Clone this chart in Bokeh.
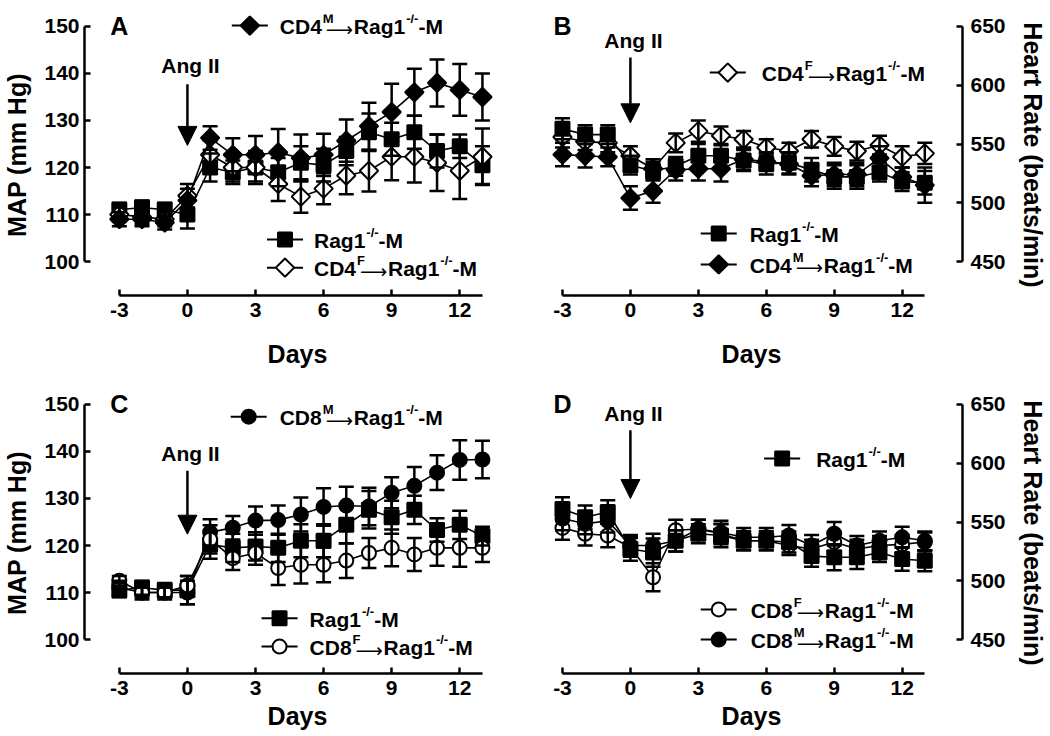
import math
from bokeh.plotting import figure
from bokeh.layouts import column, row
from bokeh.models import Range1d, FixedTicker, Whisker, TeeHead, Arrow, NormalHead, ColumnDataSource
from bokeh.core.properties import value
from bokeh.embed import file_html
from bokeh.resources import INLINE

# ---------------- data ----------------
DAYS = list(range(-3, 14))
X_TICKS = [-3, 0, 3, 6, 9, 12]
MAP_TICKS = [100, 110, 120, 130, 140, 150]
HR_TICKS = [450, 500, 550, 600, 650]

# Panel A : MAP, CD4 transfer
A_rag = [111, 111.5, 111, 110, 120, 119, 120, 119, 121, 120.5, 123.5, 127.5, 126, 127.5, 123.5, 124.5, 120.5]
A_rag_err = [1.5, 1.5, 1.5, 3, 3, 2.5, 3, 3, 3.5, 3.5, 3, 4, 3.5, 3.5, 3.5, 2.5, 4]
A_m = [109, 109, 108.3, 113, 126.3, 122.7, 122.7, 123.2, 122, 122.7, 125.7, 128.8, 131.8, 136, 138, 136.5, 135]
A_m_err = [1.5, 1.5, 1.5, 2.5, 2.5, 3.5, 4, 5, 5, 4.5, 4.5, 5, 6, 5, 5, 5.5, 5]
A_f = [110, 109.5, 109, 114, 122.7, 120, 120, 116.5, 113.8, 115.5, 118.3, 119.3, 122.3, 122.3, 121, 119.3, 122.3]
A_f_err = [1.5, 1.5, 1.5, 2.5, 3, 3, 3.5, 3.6, 3.4, 3.3, 4, 4.4, 5, 5.5, 6, 6, 6]

# Panel B : heart rate, CD4 transfer
B_rag = [563, 558, 558, 532, 527, 531, 540, 540, 536, 533, 534, 528, 522, 522, 526, 518, 517]
B_rag_err = [9, 8, 8, 8, 8, 8, 10, 10, 9, 9, 9, 10, 10, 10, 8, 8, 10]
B_m = [541, 540, 539, 504, 510, 528, 529, 529, 537, 535, 533, 523, 524, 524, 538, 522, 515]
B_m_err = [10, 10, 8, 10, 10, 9, 10, 11, 9, 8, 9, 9, 10, 10, 10, 8, 15]
B_f = [556, 552, 551, 540, 529, 551, 561, 557, 554, 547, 544, 554, 548, 544, 549, 539, 542]
B_f_err = [9, 7, 8, 8, 8, 8, 9, 8, 7, 7, 7, 7, 8, 8, 8, 9, 9]

# Panel C : MAP, CD8 transfer
C_rag = [110.5, 111, 110.5, 110.5, 120.2, 119.5, 119.8, 119.5, 121, 121, 124.4, 127.6, 126, 127.6, 123.3, 124.4, 122]
C_rag_err = [1.5, 1.5, 1.5, 3, 3, 3, 3, 3, 3.5, 3.5, 4, 4, 3.5, 3, 2.5, 3, 2]
C_m = [111, 110, 110, 110, 122.8, 123.8, 125.3, 125.4, 126.6, 128.2, 128.5, 128.3, 131.2, 132.7, 135.5, 138.2, 138.3]
C_m_err = [1.5, 1.5, 1.5, 2.5, 2.8, 2.5, 3, 3.1, 3.6, 4, 4, 4, 3.3, 4, 3.7, 4.2, 4]
C_f = [112.5, 110, 110, 111.5, 121.3, 117.3, 118.4, 115.2, 115.9, 115.9, 116.8, 118.4, 119.5, 118.1, 119.5, 119.5, 119.5]
C_f_err = [1, 1, 1, 2, 3, 2.5, 2.5, 3.6, 4, 3.7, 3.7, 3.2, 3.9, 3.5, 3.8, 4, 3]

# Panel D : heart rate, CD8 transfer
D_rag = [561, 554, 558.5, 527, 524, 534, 540, 538.5, 534, 534, 533, 521, 520, 520, 524, 518.5, 517]
D_rag_err = [10, 10, 10, 10, 12, 9, 8, 10, 8, 8, 9, 9, 11, 10, 8, 10, 9]
D_f = [545, 540, 538.5, 528.5, 503, 543, 544, 540, 534, 534, 530, 527, 533, 527, 530, 531, 533]
D_f_err = [10, 10, 10, 8, 12, 9, 8, 8, 8, 8, 8, 8, 8, 8, 8, 8, 8]
D_m = [553, 548.5, 551, 530, 530, 534, 544, 541, 537, 537, 538.5, 530, 540, 530, 534, 537, 534]
D_m_err = [10, 9, 10, 9, 10, 9, 8, 10, 8, 8, 9, 9, 10, 8, 8, 9, 8]

# legend labels as pieces: (text, kind)  kind: 0 normal, 1 superscript, 2 arrow
LBL_RAG = [("Rag1", 0), ("-/-", 1), ("-M", 0)]
LBL_CD4M = [("CD4", 0), ("M", 1), ("\u27f6", 2), ("Rag1", 0), ("-/-", 1), ("-M", 0)]
LBL_CD4F = [("CD4", 0), ("F", 1), ("\u27f6", 2), ("Rag1", 0), ("-/-", 1), ("-M", 0)]
LBL_CD8M = [("CD8", 0), ("M", 1), ("\u27f6", 2), ("Rag1", 0), ("-/-", 1), ("-M", 0)]
LBL_CD8F = [("CD8", 0), ("F", 1), ("\u27f6", 2), ("Rag1", 0), ("-/-", 1), ("-M", 0)]

# ---------------- style ----------------
FONT = "Liberation Sans"
MAIN_FS = 21
SUP_FS = 13
ARROW_FS = 19
ARROW_W = 27
WIDTHS = {'C': 722, 'D': 722, '4': 556, '8': 556, 'M': 833, 'F': 611, 'R': 722, 'a': 556,
          'g': 611, '1': 556, '-': 333, '/': 278}

STYLE = {
    "rag": dict(marker="square", size=14, fill_color="black", angle=0.0),
    "m4": dict(marker="square", size=13, fill_color="black", angle=math.pi / 4),
    "f4": dict(marker="square", size=13, fill_color="white", angle=math.pi / 4),
    "m8": dict(marker="circle", size=14, fill_color="black", angle=0.0),
    "f8": dict(marker="circle", size=14, fill_color="white", angle=0.0),
}

MAP_YR = (92.77, 152.55)
HR_YR = (421.1, 660.2)
LEFT_XR = (-4.535, 14.237)
RIGHT_XR = (-3.97, 14.665)


def text_width(s, fs):
    return sum(WIDTHS.get(ch, 556) for ch in s) * fs / 1000.0


def make_fig(width, height, xr, yr, ylabel, side, bl, br, bt, bb, xstand, xlab_standoff, yticks, ybounds):
    p = figure(width=width, height=height, x_range=Range1d(*xr), y_range=Range1d(*yr),
               output_backend="svg", toolbar_location=None, y_axis_location=side,
               min_border_left=bl, min_border_right=br, min_border_top=bt, min_border_bottom=bb)
    p.outline_line_color = None
    p.grid.visible = False
    p.background_fill_color = "white"
    p.border_fill_color = "white"
    for ax in (p.xaxis[0], p.yaxis[0]):
        ax.axis_line_width = 2.5
        ax.major_tick_line_width = 2.5
        ax.major_tick_in = 6
        ax.major_tick_out = 0
        ax.minor_tick_line_color = None
        ax.major_label_text_font = FONT
        ax.major_label_text_font_style = "bold"
        ax.major_label_text_font_size = "21px"
        ax.major_label_text_color = "black"
        ax.axis_label_text_font = FONT
        ax.axis_label_text_font_style = "bold"
        ax.axis_label_text_font_size = "25px"
        ax.axis_label_text_color = "black"
        ax.axis_line_color = "black"
        ax.major_tick_line_color = "black"
    xa = p.xaxis[0]
    xa.ticker = FixedTicker(ticks=X_TICKS)
    xa.major_label_overrides = {-3: "-3"}
    xa.bounds = (-3, 13)
    xa.axis_label = "Days"
    xa.major_label_standoff = xstand
    xa.axis_label_standoff = xlab_standoff
    ya = p.yaxis[0]
    ya.ticker = FixedTicker(ticks=yticks)
    ya.bounds = ybounds
    ya.axis_label = ylabel
    ya.major_label_standoff = 5 if side == "left" else 8
    ya.axis_label_standoff = 10
    return p


def add_series(p, y, err, key):
    st = STYLE[key]
    src = ColumnDataSource(dict(x=DAYS, y=y,
                                upper=[a + b for a, b in zip(y, err)],
                                lower=[a - b for a, b in zip(y, err)]))
    p.line("x", "y", source=src, line_color="black", line_width=1.6)
    w = Whisker(source=src, base="x", upper="upper", lower="lower", line_width=2.5,
                line_color="black", level="glyph",
                upper_head=TeeHead(size=15, line_width=2.5, line_color="black"),
                lower_head=TeeHead(size=15, line_width=2.5, line_color="black"))
    p.add_layout(w)
    p.scatter("x", "y", source=src, marker=st["marker"], size=st["size"], angle=st["angle"],
              fill_color=st["fill_color"], line_color="black", line_width=2)


def add_legend(p, x, y, key, parts, text_gap):
    st = STYLE[key]
    p.scatter([x], [y], marker="dash", size=36, line_color="black", line_width=2)
    p.scatter([x], [y], marker=st["marker"], size=st["size"], angle=st["angle"],
              fill_color=st["fill_color"], line_color="black", line_width=2)
    off = text_gap
    sup_start = off
    for s, kind in parts:
        if kind == 2:
            start = sup_start + 3
            p.text(x=[x], y=[y], text=[s], x_offset=start, y_offset=3,
                   text_font=value("DejaVu Sans"), text_font_size=f"{ARROW_FS}px",
                   text_align="left", text_baseline="middle", text_color="black")
            off = start + ARROW_W + 1
            continue
        fs = SUP_FS if kind == 1 else MAIN_FS
        if kind == 1:
            sup_start = off + 1
            off += 1
        p.text(x=[x], y=[y], text=[s], x_offset=off, y_offset=(-7 if kind == 1 else 1),
               text_font=value(FONT), text_font_style="bold", text_font_size=f"{fs}px",
               text_align="left", text_baseline="middle", text_color="black")
        off += text_width(s, fs)


def add_marks(p, letter, ly, ang_text_y, arrow_top, arrow_bottom):
    p.text(x=[-3], y=[ly], text=[letter], text_font=value(FONT), text_font_style="bold",
           text_font_size="25px", text_align="center", text_baseline="middle", text_color="black")
    p.text(x=[0], y=[ang_text_y], text=["Ang II"], x_offset=3, text_font=value(FONT),
           text_font_style="bold", text_font_size="21px", text_align="center",
           text_baseline="middle", text_color="black")
    p.add_layout(Arrow(end=NormalHead(size=19, fill_color="black", line_color="black"),
                       x_start=0, y_start=arrow_top, x_end=0, y_end=arrow_bottom,
                       line_width=2.5, line_color="black"))


# Panel A
pA = make_fig(530, 374, LEFT_XR, MAP_YR, "MAP (mm Hg)", "left", 82, 20, 14, 79, 7, 20, MAP_TICKS, (100, 150))
add_series(pA, A_rag, A_rag_err, "rag")
add_series(pA, A_f, A_f_err, "f4")
add_series(pA, A_m, A_m_err, "m4")
add_marks(pA, "A", 150.2, 141.7, 137.7, 124.7)
add_legend(pA, 2.75, 150.2, "m4", LBL_CD4M, 30)
add_legend(pA, 4.3, 104.7, "rag", LBL_RAG, 29)
add_legend(pA, 4.3, 98.7, "f4", LBL_CD4F, 29)

# Panel B
pB = make_fig(519, 374, RIGHT_XR, HR_YR, "Heart Rate (beats/min)", "right", 10, 86, 14, 79, 7, 20, HR_TICKS, (450, 650))
add_series(pB, B_f, B_f_err, "f4")
add_series(pB, B_m, B_m_err, "m4")
add_series(pB, B_rag, B_rag_err, "rag")
add_marks(pB, "B", 650, 638, 623.6, 568)
add_legend(pB, 4.3, 610.8, "f4", LBL_CD4F, 34)
add_legend(pB, 3.9, 473.8, "rag", LBL_RAG, 31)
add_legend(pB, 3.9, 447.5, "m4", LBL_CD4M, 31)

# Panel C
pC = make_fig(530, 361, LEFT_XR, MAP_YR, "MAP (mm Hg)", "left", 82, 20, 18, 62, 7, 4, MAP_TICKS, (100, 150))
add_series(pC, C_rag, C_rag_err, "rag")
add_series(pC, C_m, C_m_err, "m8")
add_series(pC, C_f, C_f_err, "f8")
add_marks(pC, "C", 150, 139.5, 135.9, 122.4)
add_legend(pC, 2.7, 147.4, "m8", LBL_CD8M, 31)
add_legend(pC, 4.06, 104.5, "rag", LBL_RAG, 30)
add_legend(pC, 4.06, 98.5, "f8", LBL_CD8F, 30)

# Panel D
pD = make_fig(519, 361, RIGHT_XR, HR_YR, "Heart Rate (beats/min)", "right", 10, 86, 18, 62, 7, 4, HR_TICKS, (450, 650))
add_series(pD, D_f, D_f_err, "f8")
add_series(pD, D_m, D_m_err, "m8")
add_series(pD, D_rag, D_rag_err, "rag")
add_marks(pD, "D", 650, 642, 628, 570)
add_legend(pD, 6.7, 604, "rag", LBL_RAG, 34)
add_legend(pD, 3.9, 475.6, "f8", LBL_CD8F, 32)
add_legend(pD, 3.9, 450, "m8", LBL_CD8M, 32)

layout = column(row(pA, pB), row(pC, pD))
open("out.html", "w").write(file_html(layout, INLINE))
